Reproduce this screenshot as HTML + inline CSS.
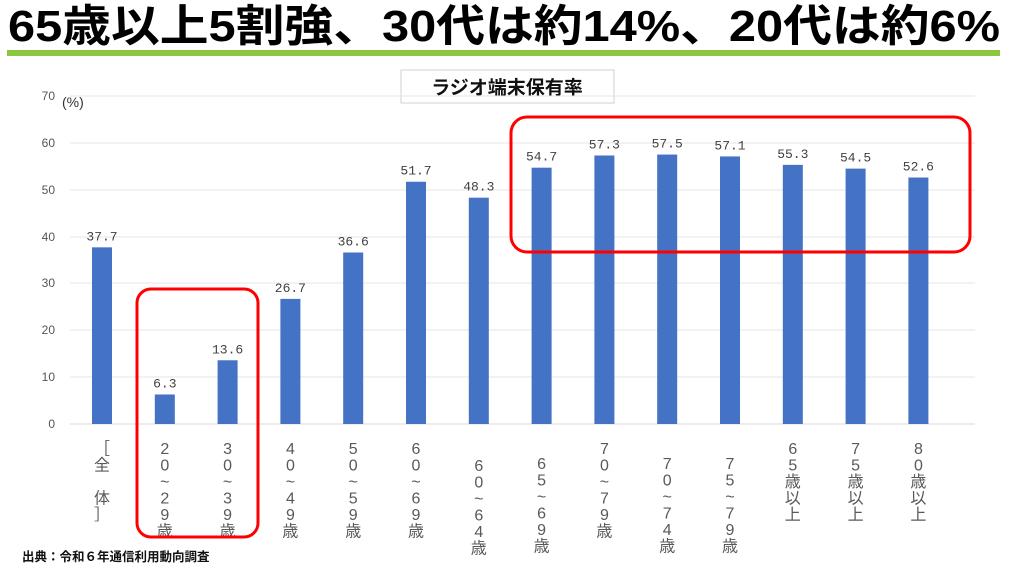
<!DOCTYPE html>
<html><head><meta charset="utf-8"><style>
body{margin:0;width:1024px;height:576px;background:#fff;overflow:hidden;position:relative;font-family:"Liberation Sans","Noto Sans CJK JP",sans-serif}
.t{position:absolute;left:8px;top:1px;font-size:44px;font-weight:bold;color:#000;white-space:nowrap;line-height:52px;transform-origin:left}
</style></head><body>
<div class="t" id="tt">65歳以上5割強、30代は約14%、20代は約6%</div>
<div style="position:absolute;left:7px;top:50px;width:993px;height:6px;background:#8cc63f"></div>
<svg width="1024" height="576" style="position:absolute;left:0;top:0" font-family="Liberation Sans, Noto Sans CJK JP, sans-serif">
<rect x="401" y="70" width="213" height="33" fill="#fff" stroke="#d0d0d0"/>
<text x="507" y="94" font-size="19" font-weight="bold" text-anchor="middle" fill="#111">ラジオ端末保有率</text>
<g stroke="#e4e4e4" stroke-width="1">
<line x1="70" x2="975" y1="96" y2="96"/><line x1="70" x2="975" y1="143" y2="143"/><line x1="70" x2="975" y1="190" y2="190"/><line x1="70" x2="975" y1="237" y2="237"/><line x1="70" x2="975" y1="283" y2="283"/><line x1="70" x2="975" y1="330" y2="330"/><line x1="70" x2="975" y1="377" y2="377"/><line x1="70" x2="975" y1="424" y2="424" stroke="#d8d8d8"/>
</g>
<g font-size="12" fill="#555" text-anchor="end">
<text x="55" y="100">70</text><text x="55" y="147">60</text><text x="55" y="194">50</text><text x="55" y="241">40</text><text x="55" y="287">30</text><text x="55" y="334">20</text><text x="55" y="381">10</text><text x="55" y="428">0</text>
</g>
<text x="62" y="107" font-size="14" fill="#333">(%)</text>
<g fill="#4472c4" id="bars"></g>
<g id="vals" font-size="13" fill="#404040" text-anchor="middle" font-family="Liberation Mono, monospace"></g>
<g id="labs" font-size="16" fill="#595959" text-anchor="middle"></g>
<rect x="137" y="289" width="121" height="248" rx="14" fill="none" stroke="#f00" stroke-width="3"/>
<rect x="511" y="117" width="459" height="135" rx="16" fill="none" stroke="#f00" stroke-width="3"/>
<text x="22" y="561" font-size="12.5" font-weight="bold" fill="#111">出典：令和６年通信利用動向調査</text>
</svg>
<script>
var tt=document.getElementById("tt");tt.style.transform="scaleX("+(992/tt.offsetWidth)+")";
var v=[37.7,6.3,13.6,26.7,36.6,51.7,48.3,54.7,57.3,57.5,57.1,55.3,54.5,52.6];
var L=[["［","全","","体","］"],["2","0","~","2","9","歳"],["3","0","~","3","9","歳"],["4","0","~","4","9","歳"],["5","0","~","5","9","歳"],["6","0","~","6","9","歳"],["6","0","~","6","4","歳"],["6","5","~","6","9","歳"],["7","0","~","7","9","歳"],["7","0","~","7","4","歳"],["7","5","~","7","9","歳"],["6","5","歳","以","上"],["7","5","歳","以","上"],["8","0","歳","以","上"]];
var top0=[440,440,440,440,440,440,457,455,440,455,455,440,440,440];
var ns="http://www.w3.org/2000/svg",b=document.getElementById("bars"),vs=document.getElementById("vals"),ls=document.getElementById("labs");
v.forEach(function(d,i){var cx=102+i*62.8,h=d*4.686,y=424-h;
var r=document.createElementNS(ns,"rect");r.setAttribute("x",cx-10);r.setAttribute("y",y);r.setAttribute("width",20);r.setAttribute("height",h);b.appendChild(r);
var t=document.createElementNS(ns,"text");t.setAttribute("x",cx);t.setAttribute("y",y-7);t.textContent=d.toFixed(1);vs.appendChild(t);
L[i].forEach(function(c,j){var u=document.createElementNS(ns,"text");u.setAttribute("x",cx);u.setAttribute("y",top0[i]+14+j*16.5);u.textContent=c;ls.appendChild(u);});
});
</script>
</body></html>
